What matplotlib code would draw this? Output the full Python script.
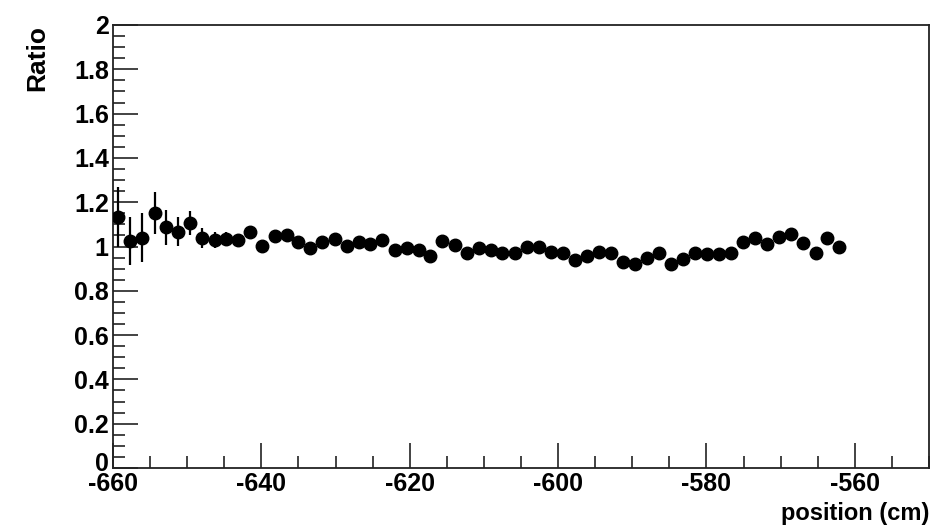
import numpy as np
import matplotlib
matplotlib.use("Agg")
import matplotlib.pyplot as plt
import matplotlib.transforms as mtransforms
from matplotlib.ticker import MultipleLocator

plt.rcParams['font.family'] = ['Liberation Sans', 'DejaVu Sans']
plt.rcParams['axes.unicode_minus'] = False

# bin centres (cm)
position = [
    -659.3, -657.7, -656.1, -654.4, -652.8, -651.2, -649.6, -648.0, -646.3, -644.7,
    -643.1, -641.5, -639.9, -638.2, -636.6, -635.0, -633.4, -631.8, -630.1, -628.5,
    -626.9, -625.3, -623.7, -622.0, -620.4, -618.8, -617.2, -615.6, -613.9, -612.3,
    -610.7, -609.1, -607.5, -605.8, -604.2, -602.6, -601.0, -599.4, -597.7, -596.1,
    -594.5, -592.9, -591.3, -589.6, -588.0, -586.4, -584.8, -583.2, -581.5, -579.9,
    -578.3, -576.7, -575.1, -573.4, -571.8, -570.2, -568.6, -567.0, -565.3, -563.7,
    -562.1,
]

ratio = [
    1.135, 1.025, 1.040, 1.153, 1.087, 1.067, 1.107, 1.037, 1.030, 1.034,
    1.029, 1.067, 1.002, 1.047, 1.050, 1.022, 0.992, 1.019, 1.032, 1.004,
    1.022, 1.010, 1.029, 0.984, 0.992, 0.984, 0.957, 1.025, 1.007, 0.972,
    0.995, 0.984, 0.969, 0.969, 0.996, 0.999, 0.977, 0.969, 0.939, 0.958,
    0.977, 0.969, 0.931, 0.921, 0.947, 0.969, 0.920, 0.942, 0.969, 0.966,
    0.965, 0.972, 1.019, 1.037, 1.011, 1.042, 1.056, 1.017, 0.969, 1.040,
    0.999,
]

ratio_err = [
    0.135, 0.110, 0.110, 0.095, 0.080, 0.065, 0.055, 0.045, 0.035, 0.030,
    0.028, 0.026, 0.025, 0.024, 0.023, 0.022, 0.022, 0.021, 0.021, 0.020,
    0.020, 0.020, 0.020, 0.020, 0.020, 0.020, 0.020, 0.020, 0.020, 0.020,
    0.020, 0.020, 0.020, 0.020, 0.020, 0.020, 0.020, 0.020, 0.020, 0.020,
    0.020, 0.020, 0.020, 0.020, 0.020, 0.020, 0.020, 0.020, 0.020, 0.020,
    0.020, 0.020, 0.020, 0.020, 0.020, 0.020, 0.020, 0.020, 0.020, 0.020,
    0.020,
]

y_tick_values = [0, 0.2, 0.4, 0.6, 0.8, 1, 1.2, 1.4, 1.6, 1.8, 2]
y_tick_labels = ['0', '0.2', '0.4', '0.6', '0.8', '1', '1.2', '1.4', '1.6', '1.8', '2']

fig = plt.figure(figsize=(9.33, 5.27), dpi=100)
ax = fig.add_axes([113 / 933, 1 - 468 / 527, (929 - 113) / 933, (468 - 25) / 527])

ax.errorbar(position, ratio, yerr=ratio_err, fmt='o', color='black',
            markersize=9, elinewidth=1.6, capsize=0, zorder=3)

ax.set_xlim(-660, -550)
ax.set_ylim(0, 2)

ax.xaxis.set_major_locator(MultipleLocator(20))
ax.xaxis.set_minor_locator(MultipleLocator(5))
ax.yaxis.set_minor_locator(MultipleLocator(0.05))
ax.set_yticks(y_tick_values)
ax.set_yticklabels(y_tick_labels)

for s in ax.spines.values():
    s.set_linewidth(1.3)
    s.set_color('#222222')

ax.tick_params(which='both', direction='in', top=False, right=False,
               color='#222222', width=1.2)
ax.tick_params(which='major', length=18, labelsize=18, pad=3)
ax.tick_params(which='minor', length=8.5)
for lab in ax.get_xticklabels() + ax.get_yticklabels():
    lab.set_fontweight('bold')

# lift the "0" on the y axis a little so it clears the first x label
zero_label = ax.get_yticklabels()[0]
zero_label.set_transform(zero_label.get_transform() +
                         mtransforms.ScaledTranslation(0, 5 / 72, fig.dpi_scale_trans))

ax.set_xlabel('position (cm)', fontsize=17, fontweight='bold', loc='right')
ax.xaxis.set_label_coords(1.0, -0.076)
ax.set_ylabel('Ratio', fontsize=19, fontweight='bold', loc='top')
ax.yaxis.set_label_coords(-0.078, 1.0)

fig.savefig('out.png', dpi=100)
